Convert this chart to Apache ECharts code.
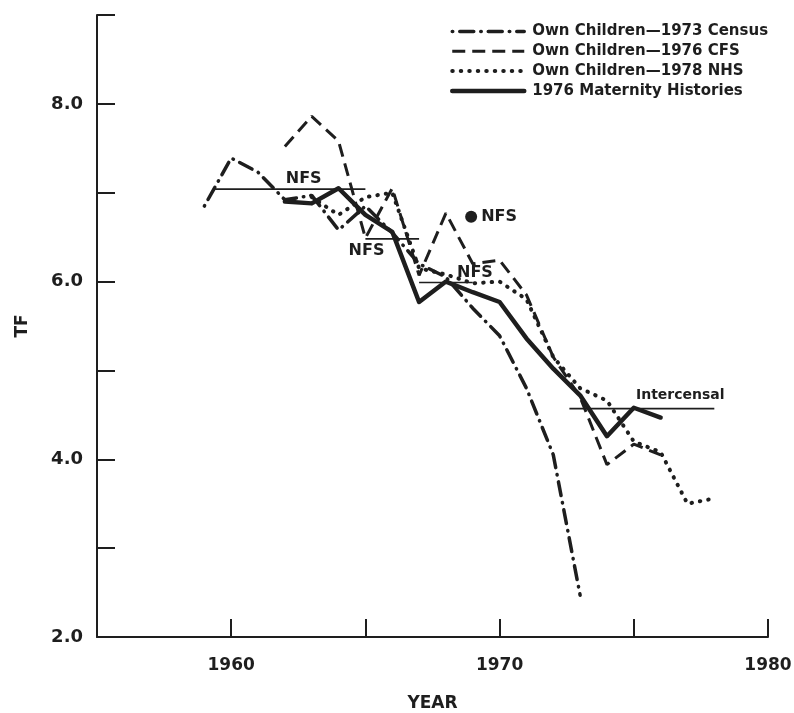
<!DOCTYPE html>
<html><head><meta charset="utf-8">
<script src="https://cdn.jsdelivr.net/npm/echarts@6/dist/echarts.min.js"></script>
<style>html,body{margin:0;padding:0;background:#fff}#c{width:794px;height:713px}</style>
</head><body><div id="c"></div>
<script>
// ---- data ----
const censusYears = [1959,1960,1961,1962,1963,1964,1965,1966,1967,1968,1969,1970,1971,1972,1973];
const censusTF    = [6.85,7.39,7.23,6.92,6.97,6.58,6.85,6.55,6.20,6.05,5.70,5.39,4.80,4.05,2.47];

const cfsYears = [1962,1963,1964,1965,1966,1967,1968,1969,1970,1971,1972,1973,1974,1975,1976];
const cfsTF    = [7.52,7.86,7.58,6.49,7.05,6.07,6.77,6.20,6.24,5.85,5.15,4.70,3.94,4.17,4.05];

const nhsYears = [1963,1964,1965,1966,1967,1968,1969,1970,1971,1972,1973,1974,1975,1976,1977,1978];
const nhsTF    = [6.95,6.75,6.95,7.00,6.15,6.08,5.98,6.00,5.80,5.15,4.80,4.66,4.20,4.08,3.50,3.56];

const matYears = [1962,1963,1964,1965,1966,1967,1968,1969,1970,1971,1972,1973,1974,1975,1976];
const matTF    = [6.90,6.88,7.05,6.75,6.56,5.77,6.00,5.88,5.77,5.36,5.02,4.72,4.26,4.58,4.47];

// reference levels (start year, end year, TF)
const nfs1 = [1959.4, 1965, 7.04];
const nfs2 = [1965, 1967, 6.48];
const nfs3 = [1967, 1969, 5.99];
const intercensal = [1972.6, 1978, 4.57];
const nfsPoint = [1968.94, 6.73];

// annotation texts and their anchor (year, TF)
const annoTexts  = ['NFS', 'NFS', 'NFS', 'Intercensal'];
const annoCoords = [[1962.72, 7.15], [1965.06, 6.34], [1969.1, 6.09], [1976.75, 4.71]];

const names = ['Own Children\u20141973 Census', 'Own Children\u20141976 CFS', 'Own Children\u20141978 NHS', '1976 Maternity Histories'];

const xTicks = {min: 1955, max: 1980, interval: 5};
const yTicks = {min: 2, max: 9, interval: 1};

// ---- chart ----
const FONT = 'DejaVu Sans';
const INK = '#1e1e1e';
const zip = (a, b) => a.map((v, i) => [v, b[i]]);
const seg = r => [[r[0], r[2]], [r[1], r[2]]];

const styles = [
  {color: INK, width: 3.5, type: [0.5, 7, 14, 7], cap: 'round'},
  {color: INK, width: 3, type: [13, 7], cap: 'butt'},
  {color: INK, width: 4, type: [0.5, 8], cap: 'round'},
  {color: INK, width: 4.5, type: 'solid', cap: 'round', join: 'round'}
];

const chart = echarts.init(document.getElementById('c'), null, {renderer: 'canvas'});
const refStyle = {color: INK, width: 1.6, type: 'solid'};
const refSeries = [nfs1, nfs2, nfs3, intercensal].map(r => ({
  type: 'line', data: seg(r), symbol: 'none', silent: true, z: 1,
  lineStyle: refStyle, itemStyle: {color: INK}, animation: false
}));

chart.setOption({
  animation: false,
  backgroundColor: '#fff',
  color: [INK],
  grid: {left: 97, right: 26, top: 15, bottom: 76, containLabel: false, outerBoundsMode: 'none'},
  legend: {
    orient: 'vertical', left: 445, top: 19,
    itemWidth: 72, itemHeight: 14, itemGap: 4.8,
    data: names.map((n, i) => ({name: n, lineStyle: Object.assign({}, styles[i]), itemStyle: {opacity: 0}})),
    itemStyle: {opacity: 0},
    textStyle: {fontFamily: FONT, fontWeight: 'bold', fontSize: 15, color: INK, padding: [0, 0, 0, 3]}
  },
  xAxis: {
    type: 'value', min: xTicks.min, max: xTicks.max, interval: xTicks.interval,
    name: 'YEAR', nameLocation: 'middle', nameGap: 58,
    nameTextStyle: {fontFamily: FONT, fontWeight: 'bold', fontSize: 17, color: INK},
    axisLine: {lineStyle: {color: INK, width: 2}},
    axisTick: {inside: true, length: 18, lineStyle: {color: INK, width: 2}},
    splitLine: {show: false},
    axisLabel: {
      margin: 20, fontFamily: FONT, fontWeight: 'bold', fontSize: 17, color: INK,
      formatter: v => (v % 10 === 0 && v > xTicks.min) ? String(v) : ''
    }
  },
  yAxis: {
    type: 'value', min: yTicks.min, max: yTicks.max, interval: yTicks.interval,
    name: 'TF', nameLocation: 'middle', nameGap: 66, nameRotate: 90,
    nameTextStyle: {fontFamily: FONT, fontWeight: 'bold', fontSize: 17, color: INK},
    axisLine: {show: true, lineStyle: {color: INK, width: 2}},
    axisTick: {show: true, inside: true, length: 18, lineStyle: {color: INK, width: 2}},
    splitLine: {show: false},
    axisLabel: {
      margin: 14, fontFamily: FONT, fontWeight: 'bold', fontSize: 18, color: INK,
      formatter: v => (v % 2 === 0) ? v.toFixed(1) : ''
    }
  },
  series: [
    {name: names[0], type: 'line', data: zip(censusYears, censusTF), symbol: 'none', z: 3,
     itemStyle: {color: INK}, lineStyle: styles[0]},
    {name: names[1], type: 'line', data: zip(cfsYears, cfsTF), symbol: 'none', z: 3,
     itemStyle: {color: INK}, lineStyle: styles[1]},
    {name: names[2], type: 'line', data: zip(nhsYears, nhsTF), symbol: 'none', z: 3,
     itemStyle: {color: INK}, lineStyle: styles[2]},
    {name: names[3], type: 'line', data: zip(matYears, matTF), symbol: 'none', z: 4,
     itemStyle: {color: INK}, lineStyle: styles[3]},
    ...refSeries,
    {type: 'scatter', data: [nfsPoint], symbol: 'circle', symbolSize: 12, z: 5,
     itemStyle: {color: INK, opacity: 1},
     label: {show: true, position: 'right', distance: 4, formatter: 'NFS', opacity: 1,
             fontFamily: FONT, fontWeight: 'bold', fontSize: 16, color: INK}},
    {type: 'scatter', symbolSize: 1, z: 6, silent: true,
     itemStyle: {color: 'rgba(255,255,255,0)', opacity: 1},
     data: annoCoords.map((c, i) => ({
       value: c, name: annoTexts[i],
       label: {fontSize: annoTexts[i] === 'Intercensal' ? 14 : 16}
     })),
     label: {show: true, position: [0, 0], align: 'center', verticalAlign: 'middle',
             formatter: p => p.name, opacity: 1,
             fontFamily: FONT, fontWeight: 'bold', color: INK, fontSize: 16}}
  ]
});
</script></body></html>
